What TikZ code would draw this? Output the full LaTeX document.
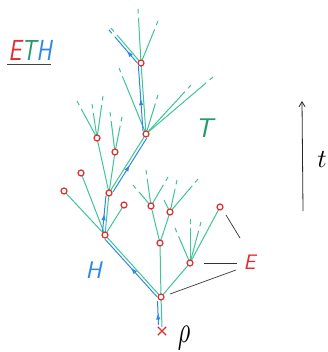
\documentclass[tikz,border=0pt]{standalone}
\usetikzlibrary{calc,arrows.meta,decorations.markings,shapes.misc}
\definecolor{ethred}{RGB}{225,45,45}
\definecolor{ethgreen}{RGB}{62,196,150}
\definecolor{ethdkgreen}{RGB}{35,155,105}
\definecolor{ethblue}{RGB}{45,135,230}
\newcommand\hseg[4]{\draw[hist,harrow=0.5,shorten <=3pt,shorten >=3pt] ($(#1)!2.8pt!#3:(#2)$) -- ($(#2)!2.8pt!#4:(#1)$);}
\begin{document}
\begin{tikzpicture}[x=1pt,y=-1pt,
  tree/.style={draw=ethgreen, line width=1pt},
  hist/.style={draw=ethblue, line width=1pt},
  harrow/.style={postaction={decorate,decoration={markings,mark=at position #1 with {\arrow{Latex[length=6.5pt,width=4.5pt]}}}}},
  dot/.style={circle, draw=ethred, fill=white, line width=1.2pt, minimum size=6pt, inner sep=0pt},
  lbl/.style={inner sep=0pt},
  guide/.style={draw=black!80, line width=0.7pt}]
\useasboundingbox (0,0) rectangle (328,352);
% positions
\coordinate (R) at (162,331);
\coordinate (N0) at (161,297);
\coordinate (N1) at (105,235);
\coordinate (N2) at (160,243);
\coordinate (N3) at (190,263);
\coordinate (N4) at (220,207);
\coordinate (L1) at (64,191);
\coordinate (L2) at (81,173);
\coordinate (L3) at (124,205);
\coordinate (M) at (109,193);
\coordinate (C) at (97,138);
\coordinate (D) at (115,152);
\coordinate (B) at (146,134);
\coordinate (A) at (141,63);
\coordinate (E) at (151,206);
\coordinate (F) at (170,212);
\coordinate (Fs) at (164,200);
% green tree
\draw[tree] ($(R)+(0,-4)$) -- (N0);
\foreach \p/\q in {N0/N1,N0/N2,N0/N3,N1/L1,N1/L2,N1/M,N1/L3,M/C,M/D,M/B,B/A,N2/E,N2/F,N3/N4,F/Fs}
  \draw[tree] (\p) -- (\q);
\foreach \a/\tx/\ty in {C/77/101, C/92/104, C/103/96, D/110/112, D/122/117, B/119/68, B/158/95, B/191/85, B/213/77, A/138/9, A/158/21, A/111/28, E/133/185, E/146/170, E/168/177, F/177/180, F/198/179, N3/175/228, N3/190/219, N3/201/222}
{ \draw[tree] (\a) -- ($(\tx,\ty)!9pt!(\a)$);
  \draw[tree] (\tx,\ty) -- ($(\tx,\ty)!4.5pt!(\a)$); }
% blue history
\draw[hist,harrow=0.5] ($(R)+(-3.5,-6)$) -- ($(N0)+(-3.5,4)$);
\hseg{N0}{N1}{90}{-90}
\hseg{N1}{M}{90}{-90}
\hseg{M}{B}{-90}{90}
\hseg{B}{A}{90}{-90}
\coordinate (At) at (111,28);
\coordinate (Ae) at ($(At)!9pt!(A)$);
\coordinate (Ad) at ($(At)!4.5pt!(A)$);
\draw[hist,harrow=0.5,shorten <=3pt] ($(A)!2.8pt!90:(Ae)$) -- ($(Ae)!2.8pt!-90:(A)$);
\draw[hist] ($(Ad)!2.8pt!90:(At)$) -- ($(At)!2.8pt!-90:(Ad)$);
% vertices
\foreach \n in {N0,N1,N2,N3,N4,L1,L2,L3,M,C,D,B,A,E,F}
  \node[dot] (d\n) at (\n) {};
\node[draw=ethred, cross out, line width=1.3pt, minimum size=7pt, inner sep=0pt] (root) at (R) {};
% labels
\node[lbl, font=\sffamily\slshape\fontsize{29}{30}\selectfont, xscale=0.8] (eth) at (30,50.5) {\textcolor{ethred}{E}\textcolor{ethdkgreen}{T}\textcolor{ethblue}{H}};
\coordinate (u1) at (7,65); \coordinate (u2) at (51,65);
\draw[black!75, line width=1pt] (u1) -- (u2);
\node[lbl, text=ethdkgreen, font=\sffamily\slshape\fontsize{27}{28}\selectfont] (tl) at (204,128) {T};
\node[lbl, text=ethblue, font=\sffamily\slshape\fontsize{24}{25}\selectfont] (hl) at (93.5,270.5) {H};
\node[lbl, text=ethred, font=\sffamily\slshape\fontsize{21}{22}\selectfont] (el) at (249.5,262.5) {E};
\coordinate (g1a) at (240,238); \coordinate (g1b) at (226,215);
\coordinate (g2a) at (237,263); \coordinate (g2b) at (204,263);
\coordinate (g3a) at (236,270); \coordinate (g3b) at (170,294);
\draw[guide] (g1a) -- (g1b);
\draw[guide] (g2a) -- (g2b);
\draw[guide] (g3a) -- (g3b);
% time axis
\coordinate (tb) at (303,211); \coordinate (tt) at (302,101);
\draw[black!85, line width=0.8pt, -{Straight Barb[length=5pt,width=6pt]}] (tb) -- (tt);
\node[lbl, scale=2.6] (tlab) at (322,160) {$t$};
\node[lbl, xscale=2.4, yscale=3.8] (rho) at (184,338) {$\rho$};
\end{tikzpicture}
\end{document}
